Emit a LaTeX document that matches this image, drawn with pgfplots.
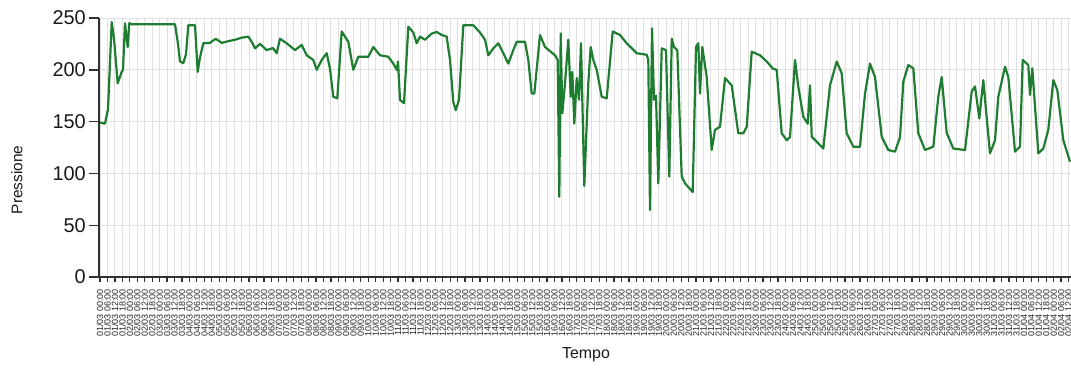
\documentclass[border=0pt]{standalone}
\usepackage{pgfplots}
\pgfplotsset{compat=1.18}
\usepackage{pgfplotstable}
\usepackage{fontspec}
\setmainfont{Liberation Sans}
\definecolor{linegreen}{RGB}{30,125,48}
\definecolor{gridgray}{RGB}{224,224,224}
\definecolor{axisgray}{RGB}{50,50,50}
\pgfplotstableread{
x y
100 149
105 148
108 162
111.7 246
114 230
117.7 187
121.7 198
123 200
125 245
127.7 222
129.3 245
131 244
175 244
178 225
180 208
183.3 206.5
186 215
188.3 243
195 243
197.7 198
200 212
203.3 225.6
210 226
215.7 230
221.7 226
230 228
235 229
241.7 231
248.3 232
251.7 227
255 220.7
260 225
266.7 219
273 221
276.7 216
280 230
286.7 225.6
295 219
301.7 224
306.7 214
313.3 209.5
316.7 200
321.7 209.5
326.7 216
330 201
333.3 174
337.3 172.5
341.7 237
348.3 227
353.3 200
358.3 212.6
368.3 212.6
373.3 222
380 214
388.3 212.6
393.3 206
396.7 200
398 208
400 171
404 167.7
408.3 241.6
413.3 236
416.7 225.6
420 232
425 229
431.7 235
436.7 236.5
441.7 233.6
446.7 232
450 209.5
453.3 169
455.7 161
459 171
463.3 243
473.3 243
480 236
485 229
488.3 214
493.3 220.7
498.3 225.6
503.3 216
508.3 206
513.3 219
516.7 227
525 227
528.3 209.5
531.7 177
534.3 177
540 233.6
545 222
555 214
557.7 209.5
559.3 77.5
560.7 235
562.3 158
565 187
568.3 229
570.7 174
572.3 198
574.3 148
576.7 192
579 171
581 225.6
584.3 88
588.3 187
590.7 222
593.3 209.5
596.7 200
601.7 174
606.7 172.5
612.7 237
620 233.6
626.7 225.6
636.7 216
646.7 214.5
648.3 209.5
650 64.7
652 240
654 171
656 175
658.3 90.4
661.7 220.7
666 219
669.3 97
671.7 230
674 222
677.3 219
681.7 97
685 90.4
692.7 82
696 222
698.3 225.6
700 177
702.3 222
706.7 193
711.7 122.6
715 142
720 145
725 192
731.7 185
738.3 138.7
743.3 138.7
746.7 145
751.7 217.5
760 214
766.7 208
773 201
776.7 200
781.7 138.7
786.7 132
790 135
795 209.5
798.3 183.7
803.3 154.7
807.7 148
810 185
811.7 135.4
816.7 130.6
823.3 124
830 185
836.7 208
841.7 196.6
846.7 138.7
853.3 125.8
860 125.8
865 177
870 206
875 193
881.7 135.4
888.3 122.6
895 121
900 135
903.3 188.5
908.3 204.6
913.3 201.4
918.3 138.7
925 122.6
933.3 125.8
938.3 174
941.7 193
944 168
946.7 139
953.3 124
965 122.6
971.7 179
975 184
979.3 153
983.3 190
986 161
990 119.4
995 132
998.3 174
1005 203
1008.3 193
1015 121
1020 125.8
1022.7 209.5
1028.3 204.6
1030 175.7
1032.3 201.4
1038.3 119.4
1043.3 124
1048.3 142
1053.3 190
1057.3 180.5
1063.3 132
1070 111.3
}\pressure
\begin{document}
\begin{tikzpicture}
\useasboundingbox (0,0) rectangle (1071bp,369bp);
\begin{axis}[
  scale only axis, width=972bp, height=259bp,
  at={(99bp,92bp)}, anchor=south west,
  xmin=99, xmax=1071, ymin=0, ymax=250,
  axis x line*=bottom, axis y line*=left,
  axis line style={axisgray, line width=1.7bp, -},
  ytick={0,50,...,250},
  xtick={100,107.45,...,1069},
  grid=major,
  major grid style={gridgray, line width=1bp},
  tick align=outside,
  major tick length=10bp,
  xtick style={axisgray, line width=1.2bp, /pgfplots/major tick length=5bp},
  ytick style={axisgray, line width=1.4bp},
  /pgf/number format/assume math mode=true,
  yticklabel style={font=\fontsize{20}{20}\selectfont, text=black!90, inner sep=3bp},
  xticklabel={\pgfmathtruncatemacro\dd{1+floor(\ticknum/4)}\pgfmathtruncatemacro\hh{6*mod(\ticknum,4)}\ifnum\dd>31 \pgfmathtruncatemacro\dd{\dd-31}\ifnum\dd<10 0\fi\dd/04\else\ifnum\dd<10 0\fi\dd/03\fi{} \ifnum\hh<10 0\fi\hh:00},
  xticklabel style={rotate=90, anchor=east, font=\fontsize{9}{9}\selectfont, text=black!85, inner sep=2bp},
  ylabel={Pressione},
  ylabel style={at={(axis description cs:-0.0844,0.375)}, anchor=center, font=\fontsize{15.5}{15.5}\selectfont, text=black!90},
  xlabel={Tempo},
  xlabel style={at={(axis description cs:0.501,-0.301)}, anchor=center, font=\fontsize{16}{16}\selectfont, text=black!90},
]
\addplot[linegreen, line width=2.2bp, line join=round] table[x=x, y=y] {\pressure};
\end{axis}
\end{tikzpicture}
\end{document}
